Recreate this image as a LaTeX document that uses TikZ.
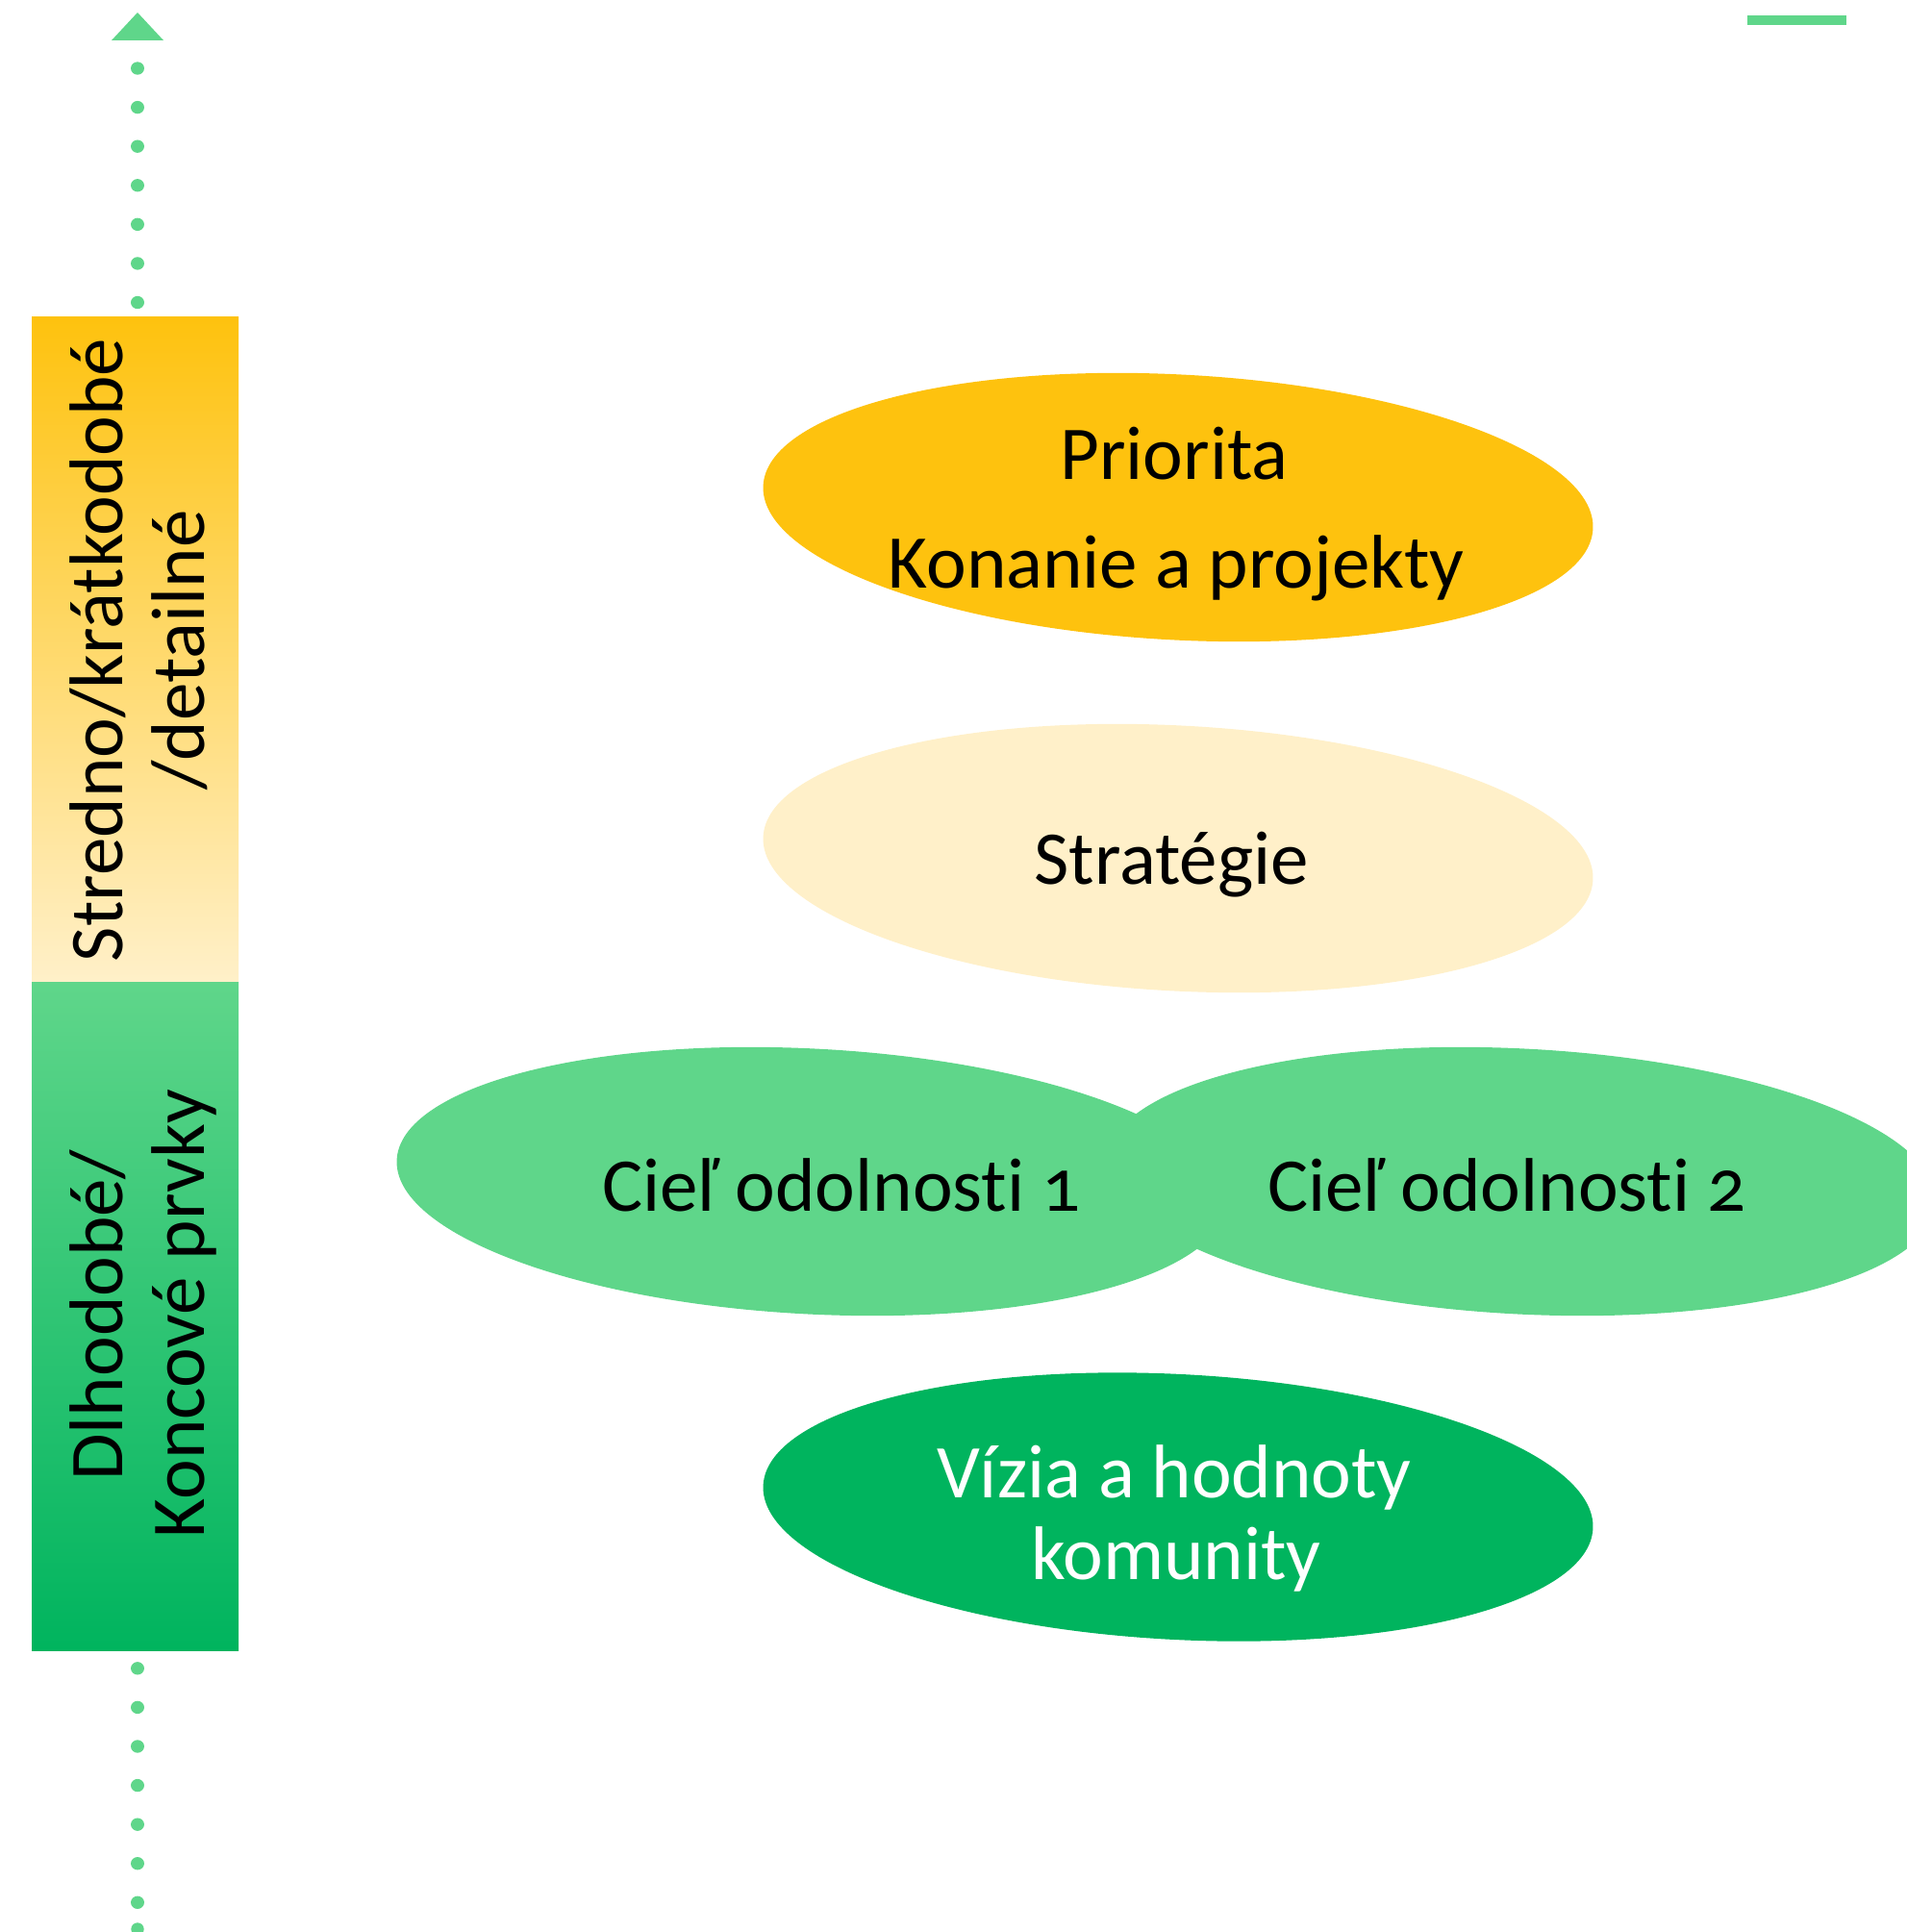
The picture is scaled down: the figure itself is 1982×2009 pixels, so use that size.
\documentclass[tikz,border=0pt]{standalone}
\usepackage{fontspec}
\setmainfont{Carlito}[Numbers=OldStyle, Ligatures=NoCommon]
\usetikzlibrary{shapes.geometric}
\definecolor{ygold}{RGB}{254,194,14}
\definecolor{ylight}{RGB}{255,240,201}
\definecolor{glight}{RGB}{95,214,138}
\definecolor{gdark}{RGB}{0,180,94}
\tikzset{
  blob/.style={ellipse, minimum width=864pt, minimum height=276pt, inner sep=0pt, rotate=-3, draw=none},
  lbl/.style={anchor=base, inner sep=0pt, font=\fontsize{79pt}{85pt}\selectfont},
  barlbl/.style={lbl, rotate=90},
  dotline/.style={glight, line width=13.4pt, line cap=round, dash pattern=on 0.01pt off 40.57pt}
}
\begin{document}
\begin{tikzpicture}[x=1pt, y=-1pt]
\useasboundingbox (0,0) rectangle (1982,2009);
% axis
\coordinate (axlow) at (143,1978.3);
\coordinate (axend) at (143,2006);
\coordinate (axhigh) at (143,70.5);
\draw[dotline] (axlow) -- (axhigh);
\fill[glight] (axend) circle (6.7);
\fill[glight] (143,13) -- (116,42) -- (170,42) -- cycle;
% top-right mark
\fill[glight] (1817,16) rectangle (1920,26);
% bar
\shade[top color=ygold, bottom color=ylight] (33,329) rectangle (248,1021.5);
\shade[top color=glight, bottom color=gdark] (33,1021.5) rectangle (248,1716);
\node[barlbl] (b1) at (127,676) {Stredno/krátkodobé};
\node[barlbl] (b2) at (212,676) {/detailné};
\node[barlbl] (b3) at (127,1367.5) {Dlhodobé/};
\node[barlbl] (b4) at (212,1366) {Koncové prvky};
% ellipses
\node[blob, fill=ygold] (e1) at (1225,527.5) {};
\node[blob, fill=ylight] (e2) at (1225,892.5) {};
\node[blob, fill=glight] (e3) at (844,1228.5) {};
\node[blob, fill=glight] (e4) at (1582,1228.5) {};
\node[blob, fill=gdark] (e5) at (1225,1567) {};
% texts
\node[lbl] (t1) at (1221,498) {Priorita};
\node[lbl] (t2) at (1223,611) {Konanie a projekty};
\node[lbl] (t3) at (1218,919) {Stratégie};
\node[lbl] (t4) at (875,1259) {Cieľ odolnosti 1};
\node[lbl] (t5) at (1567,1259) {Cieľ odolnosti 2};
\node[lbl, text=white] (t6) at (1221,1557) {Vízia a hodnoty};
\node[lbl, text=white] (t7) at (1223,1642) {komunity};
\end{tikzpicture}
\end{document}
